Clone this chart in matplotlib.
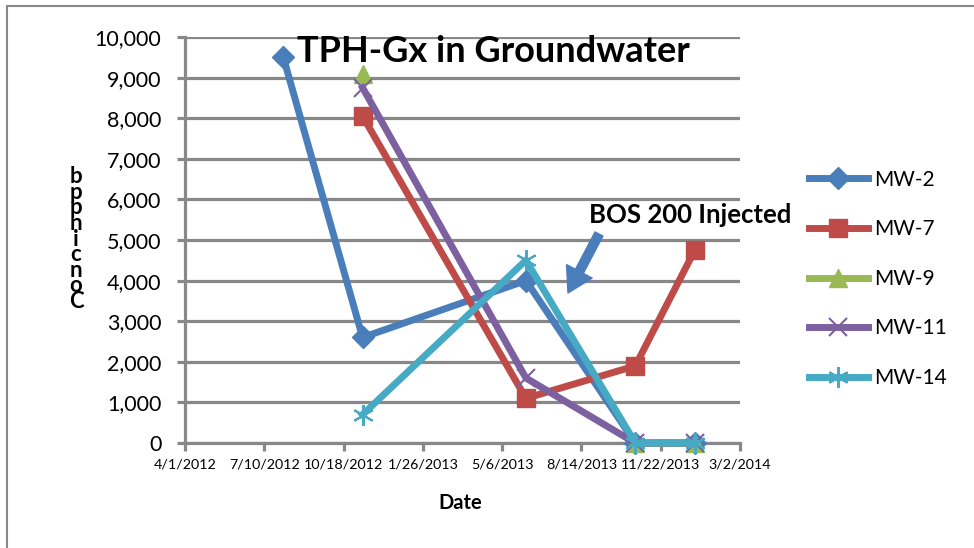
#!/usr/bin/env python3
"""
TPH-Gx in Groundwater chart (monitoring wells MW-2 .. MW-14)
"""
import numpy as np
import pandas as pd
import matplotlib
matplotlib.use("Agg")
import matplotlib.pyplot as plt
import matplotlib.dates as mdates
from matplotlib.patches import Rectangle

# Data
SAMPLE_DATES = ["2012-08-03", "2012-11-11", "2013-06-05", "2013-10-21", "2014-01-04"]
MW_2 = [9500, 2600, 4000, 0, 0]
MW_7 = [np.nan, 8050, 1100, 1900, 4750]
MW_9 = [np.nan, 9100, np.nan, 0, 0]
MW_11 = [np.nan, 8750, 1600, 0, 0]
MW_14 = [np.nan, 700, 4500, 0, 0]

TICK_DATES = ["2012-04-01", "2012-07-10", "2012-10-18", "2013-01-26",
              "2013-05-06", "2013-08-14", "2013-11-22", "2014-03-02"]
Y_TICKS = [0, 1000, 2000, 3000, 4000, 5000, 6000, 7000, 8000, 9000, 10000]

TITLE = "TPH-Gx in Groundwater"
NOTE = "BOS 200 Injected"
Y_LABEL = "Conc in ppb"
X_LABEL = "Date"

FONT = ["Lato", "DejaVu Sans"]
GRID = "#888888"

plt.rcParams["font.family"] = FONT

W, H = 974, 548
fig = plt.figure(figsize=(W / 100, H / 100), dpi=100)


def fx(px):
    return px / W


def fy(py):
    return 1 - py / H


ax = fig.add_axes([fx(185), fy(443), fx(740) - fx(185), fy(37) - fy(443)])

dates = pd.to_datetime(SAMPLE_DATES)
series = [
    ("MW-2", MW_2, "#4a7ebb", dict(marker="D", markersize=11)),
    ("MW-7", MW_7, "#be4b48", dict(marker="s", markersize=13)),
    ("MW-9", MW_9, "#98b954", dict(marker="^", markersize=13)),
    ("MW-11", MW_11, "#7d60a0", dict(marker="x", markersize=13, markeredgewidth=1.5)),
    ("MW-14", MW_14, "#46aac5", dict(marker=(6, 2, 0), markersize=15, markeredgewidth=1.5)),
]
for name, vals, color, mk in series:
    ax.plot(dates, vals, color=color, lw=5, label=name, clip_on=False,
            markerfacecolor=color, markeredgecolor=color, zorder=3, **mk)

# axes styling
ticks = pd.to_datetime(TICK_DATES)
ax.set_xlim(ticks[0], ticks[-1])
ax.set_ylim(0, 10000)
ax.set_xticks(ticks)
ax.xaxis.set_major_formatter(plt.FuncFormatter(
    lambda v, p: (lambda d: f"{d.month}/{d.day}/{d.year}")(mdates.num2date(v))))
ax.set_yticks(Y_TICKS)
ax.yaxis.set_major_formatter(plt.FuncFormatter(lambda v, p: f"{int(v):,}"))
ax.grid(axis="y", color=GRID, lw=2.3, zorder=0)
ax.set_axisbelow(True)
for s in ["top", "right"]:
    ax.spines[s].set_visible(False)
for s in ["left", "bottom"]:
    ax.spines[s].set_color(GRID)
    ax.spines[s].set_linewidth(2.3)
ax.tick_params(axis="y", length=6, width=2.3, color=GRID, labelsize=15.5, pad=11)
ax.tick_params(axis="x", length=6, width=2.3, color=GRID, labelsize=10.3, pad=5)

# title and labels
fig.text(fx(493), fy(52), TITLE, ha="center", va="center",
         fontsize=26, fontweight="bold")
fig.text(fx(460), fy(503), X_LABEL, ha="center", va="center",
         fontsize=14.5, fontweight="bold")

# y label drawn as stacked upright letters, like the original
stacked = "\n".join(ch for ch in Y_LABEL[::-1] if ch != " ")
fig.text(fx(76), fy(239), stacked, ha="center", va="center",
         fontsize=16, fontweight="bold", linespacing=0.68)

# annotation
x0 = mdates.date2num(ticks[0])
px_per_day = (740 - 185) / (mdates.date2num(ticks[-1]) - x0)


def dx(px):
    return x0 + (px - 185) / px_per_day


def dy(py):
    return (443 - py) / (443 - 37) * 10000


ax.text(dx(589), dy(215), NOTE, ha="left", va="center", fontsize=18.5,
        fontweight="bold", clip_on=False, zorder=5)
ax.annotate("", xy=(dx(568), dy(293)), xytext=(dx(599), dy(234)),
            arrowprops=dict(arrowstyle="simple,head_width=1.3,head_length=1.1,tail_width=0.4",
                            color="#4a7ebb", mutation_scale=16, shrinkA=0, shrinkB=0),
            zorder=5)

# legend
leg = ax.legend(loc="upper left", bbox_to_anchor=(fx(790), fy(151)),
                bbox_transform=fig.transFigure, frameon=False, fontsize=15,
                handlelength=2.85, handletextpad=0.3, labelspacing=1.42)

# outer chart border
fig.patches.append(Rectangle((fx(7), -0.1), 1.2, fy(6) + 0.1, transform=fig.transFigure,
                             fill=False, edgecolor="#888888", lw=1.5))

fig.savefig("out.png", dpi=100)
